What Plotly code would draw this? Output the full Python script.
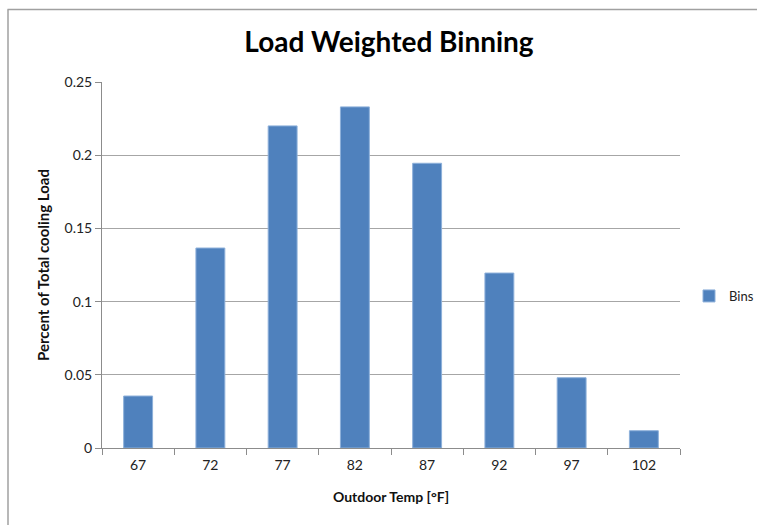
import plotly.graph_objects as go

categories = ["67", "72", "77", "82", "87", "92", "97", "102"]
bins = [0.0355, 0.1366, 0.2200, 0.2330, 0.1945, 0.1195, 0.0480, 0.0118]
y_ticks = [0, 0.05, 0.1, 0.15, 0.2, 0.25]
y_tick_labels = ["0", "0.05", "0.1", "0.15", "0.2", "0.25"]

W, H = 757, 525
L, R, T, B = 102, 77, 82, 77
pw, ph = W - L - R, H - T - B

def px_x(x):
    return (x - L) / pw

def px_y(y):
    return (H - B - y) / ph

font_family = "Lato, 'Open Sans', 'DejaVu Sans', sans-serif"

fig = go.Figure()
fig.add_trace(go.Bar(
    x=categories, y=bins, name="Bins",
    marker=dict(color="#4F81BD", line=dict(color="#8DB0DA", width=1)),
))

fig.update_layout(
    width=W, height=H,
    margin=dict(l=L, r=R, t=T, b=B, autoexpand=False),
    paper_bgcolor="white", plot_bgcolor="white",
    bargap=0.6,
    font=dict(family=font_family, color="#222222", size=14),
    title=dict(text="<b>Load Weighted Binning</b>", x=389 / W,
               xanchor="center", y=1 - 42 / H, yanchor="middle",
               font=dict(size=28, color="#000000", family=font_family)),
    showlegend=True,
    legend=dict(x=px_x(689), y=px_y(296), xanchor="left", yanchor="middle",
                font=dict(size=13, color="#222222"), bgcolor="rgba(0,0,0,0)",
                itemwidth=30),
    xaxis=dict(
        type="category", showgrid=False, showline=True, linecolor="#8C8C8C", linewidth=1,
        ticks="outside", tickson="boundaries", ticklen=6, tickcolor="#8C8C8C",
        ticklabelstandoff=4,
        tickfont=dict(size=14, color="#222222"),
        title=dict(text="<b>Outdoor Temp [°F]</b>", font=dict(size=14, color="#111111"), standoff=20),
    ),
    yaxis=dict(
        range=[0, 0.25], tickvals=y_ticks, ticktext=y_tick_labels,
        showgrid=True, gridcolor="#A6A6A6", gridwidth=1,
        showline=True, linecolor="#8C8C8C", linewidth=1,
        ticks="outside", ticklen=6, tickcolor="#8C8C8C",
        tickfont=dict(size=14, color="#222222"),
        zeroline=False,
        title=dict(text="<b>Percent of Total cooling Load</b>", font=dict(size=15, color="#111111"), standoff=11),
    ),
)

# Chart-area frame (top and left edges visible)
fig.add_shape(type="line", xref="paper", yref="paper",
              x0=px_x(7.5), x1=px_x(760), y0=px_y(9.5), y1=px_y(9.5),
              line=dict(color="#A0A0A0", width=1.5))
fig.add_shape(type="line", xref="paper", yref="paper",
              x0=px_x(8), x1=px_x(8), y0=px_y(9.5), y1=px_y(530),
              line=dict(color="#A0A0A0", width=1.5))

fig.write_html("out.html")
